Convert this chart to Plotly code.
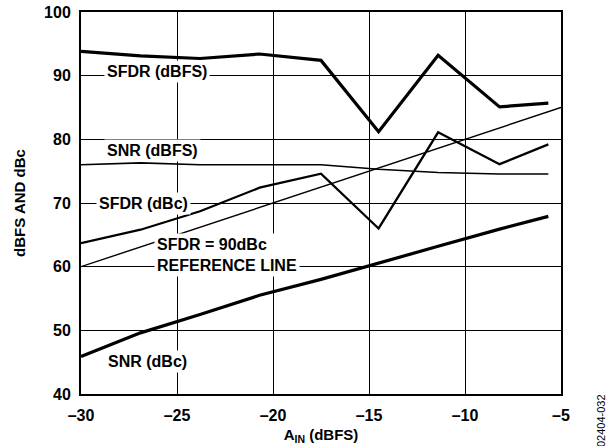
import plotly.graph_objects as go

# Data
ain = [-30, -26.9, -23.8, -20.7, -17.5, -14.5, -11.4, -8.2, -5.66]
sfdr_dbfs = [93.8, 93.1, 92.7, 93.4, 92.4, 81.2, 93.2, 85.1, 85.7]
snr_dbfs = [76.0, 76.3, 76.0, 76.0, 76.0, 75.3, 74.8, 74.55, 74.55]
sfdr_dbc = [63.7, 65.8, 68.7, 72.4, 74.6, 66.0, 81.1, 76.1, 79.2]
snr_dbc = [45.9, 49.6, 52.5, 55.5, 58.0, 60.5, 63.2, 65.9, 67.9]
ref_x = [-30, -5]
ref_y = [60, 85]

x_ticks = [-30, -25, -20, -15, -10, -5]
x_ticktext = ["–30", "–25", "–20", "–15", "–10", "–5"]
y_ticks = [40, 50, 60, 70, 80, 90, 100]

FONT = "Liberation Sans, Arial, sans-serif"

fig = go.Figure()
fig.add_trace(go.Scatter(x=ain, y=sfdr_dbfs, mode="lines", line=dict(color="black", width=3.2)))
fig.add_trace(go.Scatter(x=ain, y=snr_dbfs, mode="lines", line=dict(color="black", width=1.6)))
fig.add_trace(go.Scatter(x=ain, y=sfdr_dbc, mode="lines", line=dict(color="black", width=2.3)))
fig.add_trace(go.Scatter(x=ref_x, y=ref_y, mode="lines", line=dict(color="black", width=1.4)))
fig.add_trace(go.Scatter(x=ain, y=snr_dbc, mode="lines", line=dict(color="black", width=3.2)))

labels = [
    ("SFDR (dBFS)", -26.04, 90.73),
    ("SNR (dBFS)", -26.3, 78.2),
    ("SFDR (dBc)", -26.72, 69.85),
    ("SNR (dBc)", -26.56, 45.03),
]
for txt, xx, yy in labels:
    fig.add_annotation(x=xx, y=yy, text=f"<b>{txt}</b>", showarrow=False,
                       xanchor="center", yanchor="middle", bgcolor="white", borderpad=2,
                       font=dict(family=FONT, size=16, color="black"))
fig.add_annotation(x=-26.2, y=61.8, text="<b>SFDR = 90dBc<br>REFERENCE LINE</b>", showarrow=False,
                   xanchor="left", yanchor="middle", align="left", bgcolor="white", borderpad=2,
                   font=dict(family=FONT, size=16, color="black"))

# plot area 81..561 x 12..394 on the page
fig.add_annotation(xref="paper", yref="paper", x=(601 - 81) / 480, y=(394 - 421) / 382,
                   xanchor="center", yanchor="middle",
                   text="02404-032", showarrow=False, textangle=-90,
                   font=dict(family=FONT, size=11, color="black"))

fig.update_layout(
    width=616, height=446,
    margin=dict(l=81, r=55, t=12, b=52, autoexpand=False),
    paper_bgcolor="white", plot_bgcolor="white",
    showlegend=False,
    font=dict(family=FONT, size=16, color="black"),
    xaxis=dict(range=[-30, -5], tickvals=x_ticks, ticktext=x_ticktext,
               showgrid=True, gridcolor="black", gridwidth=1,
               showline=True, linecolor="black", linewidth=2, mirror=True,
               ticks="", zeroline=False, automargin=False, ticklabelstandoff=6,
               tickfont=dict(family=FONT, size=16, color="black", weight="bold"),
               title=dict(text="<b>A<sub>IN</sub> (dBFS)</b>", font=dict(family=FONT, size=15), standoff=6)),
    yaxis=dict(range=[40, 100], tickvals=y_ticks,
               showgrid=True, gridcolor="black", gridwidth=1,
               showline=True, linecolor="black", linewidth=2, mirror=True,
               ticks="", zeroline=False, automargin=False, ticklabelstandoff=5,
               tickfont=dict(family=FONT, size=16, color="black", weight="bold"),
               title=dict(text="<b>dBFS AND dBc</b>", font=dict(family=FONT, size=15), standoff=15)),
)

fig.write_html("out.html", config={"displayModeBar": False},
               post_script="document.body.style.margin='0';")
